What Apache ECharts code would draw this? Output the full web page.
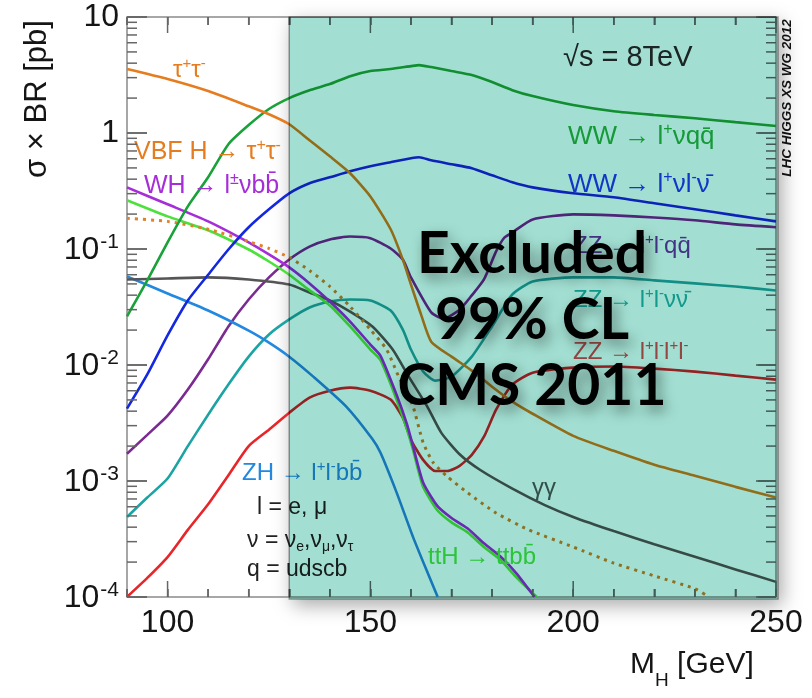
<!DOCTYPE html>
<html><head><meta charset="utf-8">
<script src="https://cdn.jsdelivr.net/npm/echarts@6/dist/echarts.min.js"></script>
<style>html,body{margin:0;padding:0;background:#fff;}#c{width:812px;height:698px;}</style>
</head><body><div id="c"></div>
<script>
// ---- data: [M_H (GeV), sigma x BR (pb)] ----
const tautau = [[90,3.56],[100,2.92],[110,2.30],[120,1.70],[125,1.45],[130,1.19],[135,0.867],[140,0.63],[145,0.45],[150,0.284],[155,0.148],[158,0.081],[160,0.0494],[162.5,0.0272],[165,0.0159],[170,0.0118],[175,0.00895],[180,0.0065],[185,0.00483],[190,0.0038],[200,0.00245],[210,0.00182],[220,0.00138],[230,0.00111],[240,0.00089],[250,0.00072]];
const wwLvqq = [[90,0.0262],[95,0.0536],[100,0.114],[105,0.233],[110,0.415],[115,0.80],[120,1.17],[125,1.61],[130,2.0],[135,2.34],[140,2.64],[145,3.09],[150,3.42],[155,3.56],[160,3.77],[162,3.85],[165,3.70],[170,3.42],[175,3.16],[180,2.75],[185,2.34],[190,2.08],[200,1.74],[210,1.54],[220,1.43],[230,1.34],[240,1.24],[250,1.15]];
const wwLvLv = [[90,0.00421],[95,0.0083],[100,0.018],[105,0.036],[110,0.060],[115,0.099],[120,0.154],[125,0.22],[130,0.302],[135,0.369],[140,0.415],[145,0.468],[150,0.517],[155,0.56],[160,0.605],[162,0.618],[165,0.582],[170,0.538],[175,0.497],[180,0.432],[185,0.376],[190,0.34],[200,0.302],[210,0.279],[220,0.248],[230,0.22],[240,0.195],[250,0.173]];
const zzLLqq = [[90,0.00172],[95,0.0025],[100,0.00366],[105,0.00614],[110,0.0112],[115,0.0215],[120,0.0367],[125,0.0569],[130,0.0813],[135,0.105],[140,0.121],[145,0.128],[150,0.124],[155,0.101],[158,0.081],[160,0.0569],[165,0.0284],[168,0.0251],[172,0.030],[175,0.0398],[178,0.0547],[181,0.0953],[183,0.125],[185,0.139],[190,0.180],[200,0.199],[210,0.195],[220,0.187],[230,0.177],[240,0.163],[250,0.154]];
const zzLLvv = [[90,0.00049],[95,0.00072],[100,0.00105],[105,0.002],[110,0.00373],[115,0.00678],[120,0.0118],[125,0.0183],[130,0.0247],[135,0.0313],[140,0.0353],[145,0.0367],[150,0.036],[155,0.0295],[158,0.0202],[160,0.0136],[163,0.00878],[166,0.00733],[170,0.00794],[175,0.0118],[180,0.0215],[185,0.0406],[190,0.0525],[200,0.0569],[210,0.0569],[220,0.0536],[230,0.0505],[240,0.0475],[250,0.0439]];
const zz4L = [[90,0.0001],[95,0.000146],[100,0.000221],[105,0.000379],[110,0.00063],[115,0.00112],[120,0.002],[125,0.00277],[130,0.00388],[135,0.00523],[140,0.00601],[145,0.00638],[150,0.00601],[155,0.00503],[158,0.00351],[160,0.00227],[163,0.00152],[166,0.00122],[169,0.00122],[172,0.00135],[175,0.00168],[178,0.00241],[181,0.00412],[185,0.00678],[190,0.00859],[200,0.0095],[210,0.0097],[220,0.0093],[230,0.00877],[240,0.0081],[250,0.00748]];
const whLvbb = [[90,0.340],[100,0.243],[110,0.173],[120,0.114],[125,0.0897],[130,0.0694],[135,0.0505],[140,0.0353],[145,0.0237],[150,0.015],[152.5,0.012],[156.5,0.0055],[159,0.0031],[160.5,0.002],[163,0.00097],[166.5,0.00061],[170,0.00048],[174,0.00039],[178,0.00029],[182,0.000225],[186,0.00016],[190.5,0.0001]];
const ttHbb = [[90,0.263],[100,0.191],[110,0.145],[120,0.099],[125,0.078],[130,0.060],[135,0.044],[140,0.0326],[145,0.0215],[150,0.0136],[152.5,0.011],[156.5,0.005],[159,0.0028],[160.5,0.00186],[163,0.00089],[166.5,0.00056],[170,0.00044],[174,0.00036],[178,0.00027],[182,0.00021],[186,0.000148],[191,0.0001]];
const vbfTauTau = [[90,0.184],[100,0.173],[110,0.148],[120,0.116],[125,0.101],[130,0.0846],[135,0.0653],[140,0.0475],[145,0.0319],[150,0.0202],[154,0.0136],[157,0.0079],[160.5,0.0044],[163,0.00214],[165.5,0.00144],[169,0.00109],[174,0.00079],[181,0.00053],[189,0.00038],[200,0.00027],[210,0.000196],[220,0.000152],[230,0.000118],[233.5,0.0001]];
const gammaGamma = [[90,0.0546],[100,0.0557],[110,0.0569],[120,0.0546],[130,0.0494],[135,0.0422],[140,0.036],[145,0.0289],[150.5,0.0215],[155.5,0.0136],[159.5,0.0079],[164,0.0044],[167.5,0.0026],[172,0.0017],[177,0.00125],[185,0.00086],[193,0.00062],[200,0.00049],[210,0.00037],[220,0.000285],[230,0.000222],[240,0.000173],[250,0.000135]];
const zhLLbb = [[90,0.058],[100,0.0414],[110,0.0295],[120,0.0198],[125,0.0156],[130,0.0118],[136,0.0079],[144,0.0044],[150.5,0.0023],[152.5,0.00175],[156.5,0.00079],[160.5,0.00033],[164.5,0.00015],[166.6,0.0001]];

const excludedRange = [130, 250];
const xRange = [90, 250];
const yRange = [1e-4, 10];
const xLabelTicks = [100, 150, 200, 250];
const xMinorTicks = [90,100,110,120,130,140,150,160,170,180,190,200,210,220,230,240,250];
const yDecades = [1e-4, 1e-3, 1e-2, 1e-1, 1, 10];
const yMultipliers = [1,2,3,4,5,6,7,8,9];

const FONT = '"Liberation Sans", Arial, Helvetica, sans-serif';
const TICKLINE = {color: '#666666', width: 1.5};

const chart = echarts.init(document.getElementById('c'), null, {renderer: 'canvas'});

function lineSeries(name, data, color, width, type) {
  return {type: 'line', name, data, showSymbol: false, smooth: 0.2, silent: true,
    lineStyle: {color, width: width || 2.6, type: type || 'solid', cap: 'butt'}, z: 2};
}

chart.setOption({
  animation: false,
  backgroundColor: '#ffffff',
  grid: {left: 127, right: 36, top: 17, bottom: 101, show: true, borderColor: '#8a8a8a', borderWidth: 1.5,
         outerBoundsMode: 'none', containLabel: false},
  xAxis: [
    {type: 'value', position: 'bottom', min: xRange[0], max: xRange[1], interval: 10,
      axisLine: {show: false}, splitLine: {show: false},
      axisTick: {show: true, inside: true, length: 8, lineStyle: TICKLINE},
      axisLabel: {formatter: v => (xLabelTicks.indexOf(v) >= 0 ? String(v) : ''), fontSize: 32, fontFamily: FONT, color: '#151515', margin: 10, showMinLabel: true, showMaxLabel: true}},
    {type: 'value', position: 'top', min: xRange[0], max: xRange[1], interval: 10,
      axisLine: {show: false}, splitLine: {show: false}, axisLabel: {show: false},
      axisTick: {show: true, inside: true, length: 8, lineStyle: TICKLINE}}
  ],
  yAxis: [
    {type: 'log', logBase: 10, position: 'left', min: yRange[0], max: yRange[1],
      axisLine: {show: false}, splitLine: {show: false}, minorTick: {show: false},
      axisTick: {show: true, inside: true, length: 20, lineStyle: TICKLINE},
      axisLabel: {margin: 8, fontSize: 32, fontFamily: FONT, color: '#151515', showMinLabel: true, showMaxLabel: true,
        formatter: v => {
          const e = Math.round(Math.log10(v));
          if (e === 0) return '1';
          if (e === 1) return '10';
          return '{b|10}{s|' + e + '}';
        },
        rich: {b: {fontSize: 32, fontFamily: FONT, color: '#151515', lineHeight: 34, verticalAlign: 'bottom'},
               s: {fontSize: 21, fontFamily: FONT, color: '#151515', lineHeight: 22, verticalAlign: 'top', padding: [0, 0, 0, 1]}}}},
    {type: 'log', logBase: 10, position: 'right', min: yRange[0], max: yRange[1],
      axisLine: {show: false}, splitLine: {show: false}, minorTick: {show: false}, axisLabel: {show: false},
      axisTick: {show: true, inside: true, length: 18, lineStyle: TICKLINE}}
  ],
  series: [
    lineSeries('ZZ→4l', zz4L, '#e8262a'),
    lineSeries('ZZ→llvv', zzLLvv, '#1ca3a3'),
    lineSeries('ZZ→llqq', zzLLqq, '#7a2a90'),
    lineSeries('ZH→llbb', zhLLbb, '#2288e0'),
    lineSeries('γγ', gammaGamma, '#555555'),
    lineSeries('ttH→ttbb', ttHbb, '#4ee03c'),
    lineSeries('WH→lvbb', whLvbb, '#a62ed8'),
    lineSeries('VBF H→ττ', vbfTauTau, '#e0802a', 3, [3, 5]),
    lineSeries('WW→lvlv', wwLvLv, '#1428e0'),
    lineSeries('WW→lvqq', wwLvqq, '#1aa23a'),
    lineSeries('ττ', tautau, '#e57c1f')
  ]
});

// ---- helpers ----
const px = (x, y) => chart.convertToPixel({gridIndex: 0}, [x, y]);
const p1 = px(excludedRange[0], yRange[1]);
const p2 = px(excludedRange[1], yRange[0]);

// long x ticks and log minor y ticks, placed through the axis scales
const tickEls = [];
function tickRect(x, y, w, h) {
  tickEls.push({type: 'rect', z: 60, shape: {x: x, y: y, width: w, height: h}, style: {fill: '#666666'}});
}
xMinorTicks.forEach(v => {
  const major = xLabelTicks.indexOf(v) >= 0;
  const len = major ? 16 : 8;
  const b = px(v, yRange[0]), t = px(v, yRange[1]);
  tickRect(b[0] - 0.75, b[1] - len, 1.5, len);
  tickRect(t[0] - 0.75, t[1], 1.5, len);
});
yDecades.forEach((d, i) => {
  const mults = i === yDecades.length - 1 ? [1] : yMultipliers;
  mults.forEach(m => {
    const len = m === 1 ? 20 : 10;
    const l = px(xRange[0], d * m), r = px(xRange[1], d * m);
    tickRect(l[0], l[1] - 0.75, len, 1.5);
    tickRect(r[0] - len, r[1] - 0.75, len, 1.5);
  });
});

function rich(size) {
  return {
    n: {fontSize: size, fontFamily: FONT, lineHeight: size + 4, verticalAlign: 'middle'},
    s: {fontSize: Math.round(size * 0.62), fontFamily: FONT, lineHeight: Math.round(size * 0.66), verticalAlign: 'top'},
    u: {fontSize: Math.round(size * 0.62), fontFamily: FONT, lineHeight: Math.round(size * 0.62), verticalAlign: 'bottom'}
  };
}
function label(x, y, text, color, size) {
  return {type: 'text', x, y, z: 50,
    style: {text, fill: color, fontSize: size, fontFamily: FONT, align: 'left', verticalAlign: 'middle', rich: rich(size)}};
}
const Q = 'q\u0304', B = 'b\u0304', NU = '\u03bd\u0304';

// ticks first in the list (this order rendered correctly in testing)
const els = tickEls.concat([
  {type: 'rect', z: -1, shape: {x: p1[0], y: p1[1], width: p2[0] - p1[0] + 2, height: p2[1] - p1[1] + 2},
   style: {fill: '#ffffff', shadowBlur: 18, shadowColor: 'rgba(0,0,0,0.35)', shadowOffsetX: 4, shadowOffsetY: 6}},
  label(173, 70, '{n|\u03c4}{s|+}{n|\u03c4}{s|-}', '#e57c1f', 24),
  label(134, 152, '{n|VBF H \u2192 \u03c4}{s|+}{n|\u03c4}{s|-}', '#e57c1f', 25),
  label(144, 186, '{n|WH \u2192 l}{s|\u00b1}{n|\u03bdb' + B + '}', '#a62ed8', 25),
  label(563, 58, '{n|\u221as = 8TeV}', '#2a2a2a', 29),
  label(568, 137, '{n|WW \u2192 l}{s|+}{n|\u03bdq' + Q + '}', '#22b044', 26),
  label(568, 185, '{n|WW \u2192 l}{s|+}{n|\u03bdl}{s|-}{n|' + NU + '}', '#1a40f0', 26),
  label(573, 246, '{n|ZZ \u2192 l}{s|+}{n|l}{s|-}{n|q' + Q + '}', '#6a3aa0', 24),
  label(573, 300, '{n|ZZ \u2192 l}{s|+}{n|l}{s|-}{n|\u03bd' + NU + '}', '#1cb0aa', 24),
  label(573, 352, '{n|ZZ \u2192 l}{s|+}{n|l}{s|-}{n|l}{s|+}{n|l}{s|-}', '#e85050', 24),
  label(532, 488, '{n|\u03b3\u03b3}', '#505a5a', 24),
  label(428, 557, '{n|ttH \u2192 ttb' + B + '}', '#44e044', 24),
  label(242, 473, '{n|ZH \u2192 l}{s|+}{n|l}{s|-}{n|b' + B + '}', '#2288e0', 24),
  label(257, 508, '{n|l = e, \u03bc}', '#222222', 23),
  label(247, 541, '{n|\u03bd = \u03bd}{u|e}{n|,\u03bd}{u|\u03bc}{n|,\u03bd}{u|\u03c4}', '#222222', 23),
  label(247, 570, '{n|q = udscb}', '#222222', 23),
  {type: 'rect', z: 100, shape: {x: p1[0], y: p1[1], width: p2[0] - p1[0] + 2, height: p2[1] - p1[1] + 2},
   style: {fill: '#a2dfd2', stroke: '#a0a0a0', lineWidth: 1.5, blend: 'multiply'}},
  {type: 'text', z: 110, x: 532, y: 321,
   style: {text: 'Excluded\n99% CL\nCMS 2011', fill: '#000000', font: 'bold 57px Lato, "Open Sans", sans-serif', lineHeight: 66,
     align: 'center', verticalAlign: 'middle', textShadowBlur: 14, textShadowColor: 'rgba(0,0,0,0.45)', textShadowOffsetX: 4, textShadowOffsetY: 6}},
  {type: 'text', z: 110, x: 787, y: 98, rotation: Math.PI / 2,
   style: {text: 'LHC HIGGS XS WG 2012', fill: '#111', font: 'italic bold 13.5px ' + FONT, align: 'center', verticalAlign: 'middle'}},
  {type: 'text', z: 110, x: 37, y: 99, rotation: Math.PI / 2,
   style: {text: '\u03c3 \u00d7 BR [pb]', fill: '#151515', font: '31px ' + FONT, align: 'center', verticalAlign: 'middle'}},
  {type: 'text', z: 110, x: 630, y: 670,
   style: {text: '{m|M}{h|H}{m| [GeV]}', fill: '#151515', align: 'left', verticalAlign: 'middle',
     rich: {m: {fontSize: 30, fontFamily: FONT, lineHeight: 32, verticalAlign: 'top'},
            h: {fontSize: 19, fontFamily: FONT, lineHeight: 40, verticalAlign: 'bottom'}}}}
]);
chart.setOption({graphic: {elements: els}});
</script>
</body></html>
